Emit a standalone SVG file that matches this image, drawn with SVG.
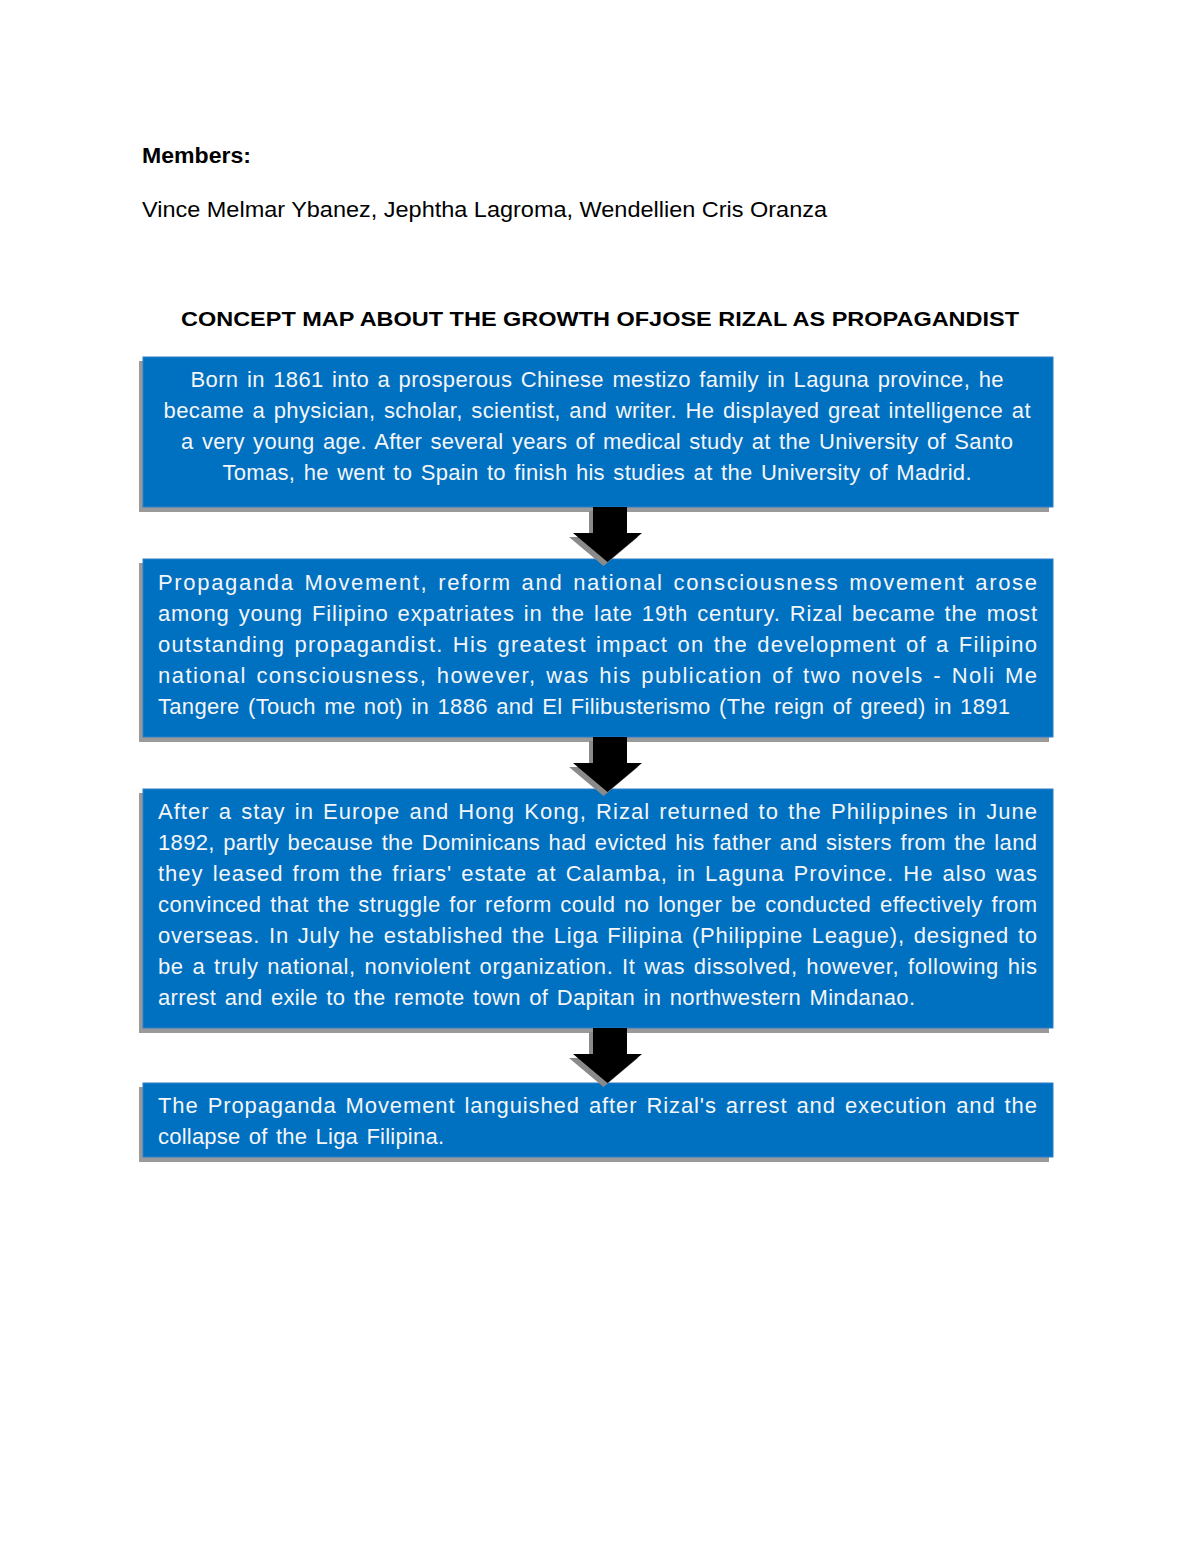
<svg xmlns="http://www.w3.org/2000/svg" width="1200" height="1553" viewBox="0 0 1200 1553">
<style>
.bg{fill:#ffffff}
.box{fill:#0070c0;stroke:#2f7fc8;stroke-width:1}
.sh{fill:#9a9a9a}
.t{font-family:"Liberation Sans",Arial,sans-serif;font-size:22px;fill:#f4f6fa;word-spacing:2px}
.c{text-anchor:middle}
.h{font-family:"Liberation Sans",Arial,sans-serif;fill:#000}
.arr{fill:#000}
.ash{fill:#8a8a8a}
</style>
<defs>
<polygon id="arrow" points="593,0 627,0 627,26 642,26 607.5,55 573,26 593,26"/>
</defs>
<rect class="bg" x="0" y="0" width="1200" height="1553"/>
<g id="header">
<text class="h" x="142" y="163" font-size="22" font-weight="bold" textLength="109" lengthAdjust="spacingAndGlyphs">Members:</text>
<text class="h" x="142" y="217" font-size="22" textLength="685" lengthAdjust="spacingAndGlyphs">Vince Melmar Ybanez, Jephtha Lagroma, Wendellien Cris Oranza</text>
<text class="h" x="600" y="326" font-size="21" font-weight="bold" text-anchor="middle" textLength="838" lengthAdjust="spacingAndGlyphs">CONCEPT MAP ABOUT THE GROWTH OFJOSE RIZAL AS PROPAGANDIST</text>
</g>
<g id="node1">
<rect class="sh" x="139" y="361" width="910" height="151"/>
<rect class="box" x="143" y="357" width="910" height="150"/>
<text class="t c" x="597" y="387" textLength="813" lengthAdjust="spacing">Born in 1861 into a prosperous Chinese mestizo family in Laguna province, he</text>
<text class="t c" x="597" y="418" textLength="867" lengthAdjust="spacing">became a physician, scholar, scientist, and writer. He displayed great intelligence at</text>
<text class="t c" x="597" y="449" textLength="832" lengthAdjust="spacing">a very young age. After several years of medical study at the University of Santo</text>
<text class="t c" x="597" y="480" textLength="749" lengthAdjust="spacing">Tomas, he went to Spain to finish his studies at the University of Madrid.</text>
</g>
<g id="node2">
<rect class="sh" x="139" y="563" width="910" height="179"/>
<rect class="box" x="143" y="559" width="910" height="178"/>
<text class="t" x="158" y="590" textLength="879" lengthAdjust="spacing">Propaganda Movement, reform and national consciousness movement arose</text>
<text class="t" x="158" y="621" textLength="879" lengthAdjust="spacing">among young Filipino expatriates in the late 19th century.  Rizal became the most</text>
<text class="t" x="158" y="652" textLength="879" lengthAdjust="spacing">outstanding propagandist. His greatest impact on the development of a Filipino</text>
<text class="t" x="158" y="683" textLength="879" lengthAdjust="spacing">national consciousness, however, was his publication of two novels - Noli Me</text>
<text class="t" x="158" y="714" textLength="852" lengthAdjust="spacing">Tangere (Touch me not) in 1886 and El Filibusterismo (The reign of greed) in 1891</text>
</g>
<g id="node3">
<rect class="sh" x="139" y="793" width="910" height="240"/>
<rect class="box" x="143" y="789" width="910" height="239"/>
<text class="t" x="158" y="819" textLength="879" lengthAdjust="spacing">After a stay in Europe and Hong Kong, Rizal returned to the Philippines in June</text>
<text class="t" x="158" y="850" textLength="879" lengthAdjust="spacing">1892, partly because the Dominicans had evicted his father and sisters from the land</text>
<text class="t" x="158" y="881" textLength="879" lengthAdjust="spacing">they leased from the friars' estate at Calamba, in Laguna Province. He also was</text>
<text class="t" x="158" y="912" textLength="879" lengthAdjust="spacing">convinced that the struggle for reform could no longer be conducted effectively from</text>
<text class="t" x="158" y="943" textLength="879" lengthAdjust="spacing">overseas. In July he established the Liga Filipina (Philippine League), designed to</text>
<text class="t" x="158" y="974" textLength="879" lengthAdjust="spacing">be a truly national, nonviolent organization. It was dissolved, however, following his</text>
<text class="t" x="158" y="1005" textLength="757" lengthAdjust="spacing">arrest and exile to the remote town of Dapitan in northwestern Mindanao.</text>
</g>
<g id="node4">
<rect class="sh" x="139" y="1087" width="910" height="75"/>
<rect class="box" x="143" y="1083" width="910" height="74"/>
<text class="t" x="158" y="1113" textLength="879" lengthAdjust="spacing">The Propaganda Movement languished after Rizal's arrest and execution and the</text>
<text class="t" x="158" y="1144" textLength="286" lengthAdjust="spacing">collapse of the Liga Filipina.</text>
</g>
<g id="connectors">
<use href="#arrow" class="ash" transform="translate(-4,511)"/>
<use href="#arrow" class="arr" transform="translate(0,507)"/>
<use href="#arrow" class="ash" transform="translate(-4,741)"/>
<use href="#arrow" class="arr" transform="translate(0,737)"/>
<use href="#arrow" class="ash" transform="translate(-4,1032)"/>
<use href="#arrow" class="arr" transform="translate(0,1028)"/>
</g>
</svg>
